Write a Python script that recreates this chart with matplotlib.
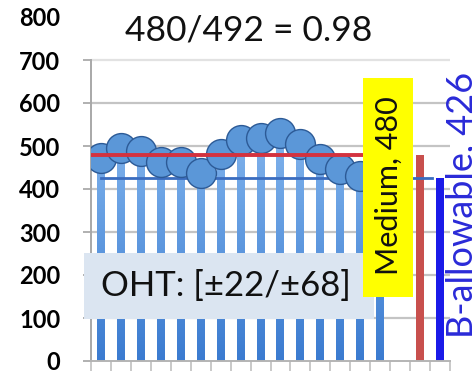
import numpy as np
import matplotlib
matplotlib.use("Agg")
import matplotlib.pyplot as plt
from matplotlib.patches import Rectangle

plt.rcParams['font.family'] = ['Lato', 'DejaVu Sans']

# Specimen strengths (OHT), mean and B-basis allowable
specimens = [471, 496, 488, 463, 463, 438, 481, 513, 519, 531, 504, 469, 446, 430, 482]
mean_value = 480
b_allowable = 426
title_text = "480/492 = 0.98"
box_text = "OHT: [±22/±68]"
mean_label = "Medium, 480"
allow_label = "B-allowable, 426"
y_ticks = [0, 100, 200, 300, 400, 500, 600, 700, 800]
n_slots = 18

W, H = 472, 375
fig = plt.figure(figsize=(W / 100, H / 100), dpi=100)
fig.patch.set_facecolor("white")

def fx(px):
    return px / W

def fy(py):
    return 1 - py / H

ax = fig.add_axes([fx(91), fy(361), fx(450) - fx(91), fy(17) - fy(361)])
ax.set_xlim(-0.5, n_slots - 0.5)
ax.set_ylim(0, 800)

# gridlines
for v in y_ticks[1:-1]:
    ax.axhline(v, color="#e2e2e2" if v == 700 else "#c4c4c4", lw=1.6, zorder=0)

# gradient columns for each specimen
grad = np.linspace(0, 1, 256).reshape(-1, 1)
cmap = matplotlib.colors.LinearSegmentedColormap.from_list(
    "col", ["#3b7bd0", "#6fa6e6", "#a9cdf6"])
xs = np.arange(len(specimens))
bars = ax.bar(xs, specimens, width=0.4, color="none", edgecolor="none", zorder=1)
for b in bars:
    x0, w, h = b.get_x(), b.get_width(), b.get_height()
    im = ax.imshow(grad, cmap=cmap, origin="lower", aspect="auto",
                   extent=[x0, x0 + w, 0, 800], zorder=1)
    im.set_clip_path(b)

# mean and allowable columns
ax.bar([16], [mean_value], width=0.38, color="#c8504d", zorder=1)
ax.bar([17], [b_allowable], width=0.4, color="#1a1ae8", zorder=1)

# reference lines
ax.plot([0, 16.6], [b_allowable, b_allowable], color="#3a6cbf", lw=2.0, zorder=2)
ax.plot(xs, specimens, linestyle="none", marker="o", ms=21.5,
        mfc="#5b97d8", mec="#2c5a96", mew=1.0, zorder=3)
ax.plot([-0.5, 15], [mean_value, mean_value], color="#d3323f", lw=2.8, zorder=4)

# axes styling
for s in ["top", "right"]:
    ax.spines[s].set_visible(False)
ax.spines["left"].set_bounds(0, 700)
ax.spines["left"].set_color("#a8a8a8")
ax.spines["bottom"].set_color("#b4b4b4")
ax.spines["left"].set_linewidth(1.4)
ax.spines["bottom"].set_linewidth(1.4)
ax.set_yticks(y_ticks)
ax.set_yticklabels([str(v) for v in y_ticks], fontsize=17, fontweight="bold")
ax.tick_params(axis="y", length=6, width=1.4, color="#b0b0b0", pad=16)
ax.yaxis.get_major_ticks()[-1].tick1line.set_visible(False)
ax.set_xticks(np.arange(-0.5, n_slots, 1.0))
ax.set_xticklabels([])
ax.tick_params(axis="x", length=7, width=1.2, color="#c0c0c0")
ax.set_facecolor("none")

# title
fig.text(fx(249), fy(30), title_text, fontsize=25.5, ha="center", va="center",
         color="#111111")

# annotation box
fig.patches.append(Rectangle((fx(84), fy(319)), fx(374) - fx(84), fy(253) - fy(319),
                             transform=fig.transFigure, facecolor="#dbe5f1",
                             edgecolor="none", zorder=5))
fig.text(fx(101), fy(286), box_text, fontsize=25, ha="left", va="center",
         color="#111111", zorder=6)

# mean label
fig.patches.append(Rectangle((fx(363), fy(297)), fx(413) - fx(363), fy(78) - fy(297),
                             transform=fig.transFigure, facecolor="#ffff00",
                             edgecolor="none", zorder=5))
fig.text(fx(389), fy(186), mean_label, fontsize=22, rotation=90, ha="center",
         va="center", color="#111111", zorder=6)

# allowable label
fig.text(fx(463), fy(205), allow_label, fontsize=26, rotation=90, ha="center",
         va="center", color="#2a2ad8", zorder=6)

fig.savefig("out.png", dpi=100)
